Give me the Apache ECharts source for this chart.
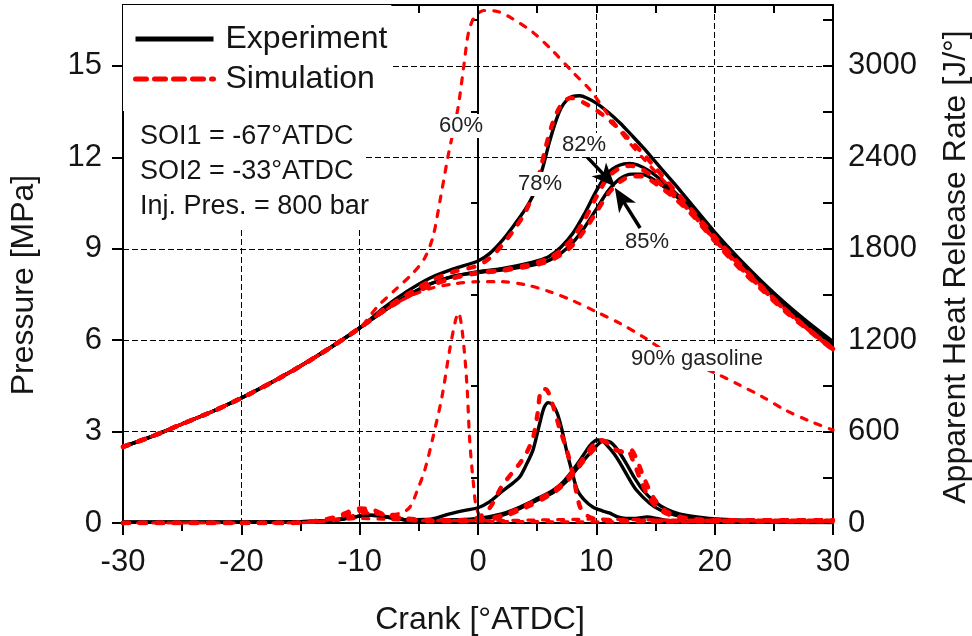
<!DOCTYPE html>
<html><head><meta charset="utf-8">
<script src="https://cdn.jsdelivr.net/npm/echarts@6/dist/echarts.min.js"></script>
<style>html,body{margin:0;padding:0;background:#fff}#c{width:972px;height:636px}</style>
</head><body><div id="c"></div>
<script>
const FONT = "'Liberation Sans', Arial, sans-serif";

// Axis ticks
const crankLabels = [-30, -20, -10, 0, 10, 20, 30];
const pressureLabels = [0, 3, 6, 9, 12, 15];
const pressureMinor = [1.5, 4.5, 7.5, 10.5, 13.5, 16.5];
const hrrLabels = [0, 600, 1200, 1800, 2400, 3000];
const hrrTicks = [0, 300, 600, 900, 1200, 1500, 1800, 2100, 2400, 2700, 3000, 3300];

// Pressure [MPa] vs crank [°ATDC]
const compression = [[-30,2.5],[-27.5,2.85],[-25,3.25],[-22.5,3.65],[-20,4.1],[-17.5,4.6],[-15,5.15],[-12.5,5.75],[-10,6.4]];
const exp78P = [[-8,7.05],[-6,7.6],[-4,8.05],[-2,8.35],[0,8.6],[1,8.85],[2,9.25],[3,9.75],[4,10.3],[4.65,10.75],[5,11.1],[5.5,11.7],[6,12.45],[6.5,13.1],[7,13.6],[7.5,13.88],[8,14.0],[8.6,14.02],[9.2,13.95],[10,13.78],[11,13.48],[12,13.13],[13,12.72],[14,12.3],[15,11.85],[16,11.4],[17,10.95],[18,10.48],[20,9.55],[22,8.7],[24,7.92],[26,7.2],[28,6.55],[30,5.95]];
const exp82P = [[-8,6.95],[-6,7.45],[-4,7.85],[-2,8.1],[0,8.25],[2,8.35],[4,8.5],[5,8.6],[6,8.75],[7,9.05],[8,9.5],[9,10.15],[10,10.9],[11,11.5],[12,11.75],[12.8,11.8],[13.5,11.75],[14.5,11.55],[15.5,11.25],[16.5,10.9],[18,10.35],[20,9.45],[22,8.6],[24,7.85],[26,7.12],[28,6.48],[30,5.9]];
const exp85P = [[-8,6.95],[-6,7.45],[-4,7.85],[-2,8.1],[0,8.22],[2,8.3],[4,8.42],[5,8.5],[6,8.62],[7,8.85],[8,9.2],[9,9.7],[10,10.3],[11,10.9],[12,11.3],[13,11.45],[13.8,11.45],[14.5,11.35],[15.5,11.1],[16.5,10.8],[18,10.3],[20,9.4],[22,8.56],[24,7.8],[26,7.08],[28,6.44],[30,5.86]];
const sim60P = [[-8.5,7.1],[-7,7.65],[-5.5,8.2],[-4.5,8.7],[-3.8,9.4],[-3.2,10.6],[-2.5,12.1],[-1.7,13.6],[-1.2,15.0],[-0.8,16.1],[-0.3,16.6],[0.5,16.82],[1.5,16.8],[2.7,16.6],[4.65,16.1],[6.3,15.5],[8,14.8],[9.5,14.2],[10.9,13.45],[12.6,12.57],[14,11.95],[16,11.1],[18,10.2],[20,9.3],[22,8.5],[24,7.75],[26,7.0],[28,6.3],[30,5.68]];
const sim78P = [[-8,7.0],[-6,7.5],[-4,7.95],[-2,8.25],[0,8.45],[1,8.7],[2,9.1],[3,9.6],[4,10.2],[4.65,10.8],[5.2,11.5],[5.7,12.3],[6.2,13.0],[6.7,13.5],[7.2,13.8],[7.8,13.95],[8.3,13.92],[9,13.78],[10,13.55],[11,13.25],[12,12.9],[13,12.5],[14,12.1],[15,11.65],[16,11.2],[17,10.75],[18,10.3],[20,9.4],[22,8.55],[24,7.75],[26,7.0],[28,6.35],[30,5.72]];
const sim82P = [[-8,6.95],[-6,7.42],[-4,7.8],[-2,8.05],[0,8.22],[2,8.3],[4,8.45],[5,8.55],[6,8.7],[7,8.95],[8,9.35],[9,9.95],[10,10.7],[11,11.35],[12,11.65],[12.9,11.72],[13.6,11.65],[14.5,11.45],[15.5,11.1],[16.5,10.75],[18,10.2],[20,9.3],[22,8.45],[24,7.7],[26,6.98],[28,6.33],[30,5.72]];
const sim85P = [[-8,6.95],[-6,7.42],[-4,7.8],[-2,8.05],[0,8.2],[2,8.28],[4,8.4],[5,8.48],[6,8.6],[7,8.8],[8,9.12],[9,9.6],[10,10.2],[11,10.8],[12,11.2],[13,11.38],[13.9,11.38],[14.6,11.25],[15.5,11.0],[16.5,10.7],[18,10.15],[20,9.25],[22,8.4],[24,7.65],[26,6.93],[28,6.3],[30,5.68]];
const sim90P = [[-8,6.95],[-6,7.4],[-4,7.7],[-2,7.85],[0,7.92],[2,7.92],[4,7.82],[6,7.6],[8,7.3],[10,6.93],[12,6.55],[14,6.1],[16,5.6],[18,5.25],[20,4.93],[22,4.55],[24,4.15],[26,3.7],[28,3.35],[30,3.05]];

// Apparent heat release rate [J/°] vs crank
const exp78H = [[-30,5],[-20,5],[-15,8],[-12,20],[-10,45],[-9,52],[-8,45],[-6,22],[-4,25],[-2.4,60],[-1,85],[0,100],[1,140],[2,205],[3,265],[3.55,305],[4,370],[4.65,480],[5.2,650],[5.6,760],[5.95,790],[6.3,775],[6.7,720],[7.1,610],[7.5,470],[8,320],[8.4,215],[9,150],[9.7,105],[10.5,80],[11.1,66],[11.8,40],[12.5,30],[13.3,30],[14.3,40],[15.2,28],[16,15],[18,8],[20,5],[30,3]];
const exp82H = [[-30,5],[-15,8],[-12,20],[-10,45],[-9,50],[-8,42],[-6,20],[-4,15],[-2,20],[0,30],[2,60],[3.55,105],[5,160],[6.35,215],[7.2,270],[8,345],[8.6,410],[9.2,480],[9.6,520],[10.05,545],[10.5,540],[10.9,510],[11.5,455],[12,395],[12.7,300],[13.4,215],[14.5,130],[15.4,85],[16.5,55],[17.6,39],[20.5,20],[25,8],[30,5]];
const exp85H = [[-30,5],[-15,8],[-12,20],[-10,45],[-9,50],[-8,42],[-6,20],[-4,15],[-2,20],[0,25],[2,50],[3.55,95],[5,150],[6.35,200],[7.5,275],[8.3,350],[9.2,435],[10,505],[10.6,540],[11.2,530],[11.8,480],[12.5,395],[13.2,300],[14,210],[15,135],[16,88],[17,60],[18.5,40],[20.5,25],[25,10],[30,5]];
const sim60H = [[-30,0],[-16,0],[-13,15],[-11,40],[-9.5,65],[-8,55],[-6.5,65],[-5.75,105],[-5.1,220],[-4.5,347],[-3.8,564],[-3.05,826],[-2.4,1134],[-1.9,1330],[-1.65,1380],[-1.4,1300],[-1.1,1080],[-0.9,860],[-0.7,540],[-0.4,270],[-0.1,90],[0.5,20],[2,10],[30,5]];
const sim78H = [[-30,0],[-16,0],[-14,10],[-12,40],[-10,95],[-9,90],[-8,60],[-6,30],[-4,18],[-2,18],[0,35],[1,100],[2,240],[3,340],[3.55,393],[4.1,460],[4.65,560],[5.0,700],[5.4,880],[5.8,875],[6.3,780],[6.9,620],[7.5,480],[8.0,330],[8.6,110],[9.2,50],[10,25],[12,15],[30,15]];
const sim82H = [[-30,0],[-16,0],[-14,10],[-12,35],[-10,80],[-9,75],[-8,55],[-6,25],[-4,12],[-2,12],[0,20],[2,50],[4,115],[6,195],[7,250],[8,335],[9,435],[9.7,510],[10.3,545],[10.9,525],[11.5,485],[12.1,470],[12.6,478],[13.1,410],[13.7,290],[14.5,160],[15.3,90],[16.3,50],[17.5,30],[19,20],[30,18]];
const sim85H = [[-30,0],[-16,0],[-14,10],[-12,35],[-10,80],[-9,75],[-8,55],[-6,25],[-4,12],[-2,12],[0,15],[2,40],[4,100],[6,180],[7,235],[8,315],[9,415],[10,500],[10.6,540],[11.2,510],[11.8,475],[12.4,465],[12.9,480],[13.4,420],[14,300],[14.8,170],[15.6,95],[16.6,52],[17.8,30],[19.5,20],[30,18]];
const sim90H = [[-30,0],[-16,0],[-13,10],[-10,30],[-8,25],[-5,15],[0,15],[5,20],[10,25],[15,20],[20,15],[30,12]];

// Annotation arrows (data coordinates, pressure axis)
const arrow82 = [[9.05,12.08],[10.9,11.32]];
const arrow85 = [[13.7,9.68],[12.1,10.67]];

const expStyle = {color:'#000', width:3.4};
const simStyle = {color:'#ff0000', width:4.4, type:[6,11], cap:'round'};
const thinSim = {color:'#ff0000', width:3.2, type:[6,9], cap:'round'};
const ARROW_HEAD = 'path://M0,0L10,22L0,16L-10,22Z';

function line(name, data, yIdx, style, extra) {
  return Object.assign({
    type:'line', name, data, xAxisIndex:0, yAxisIndex:yIdx, symbol:'none', showSymbol:false,
    smooth:0.3, lineStyle:style, itemStyle:{color:style.color}, silent:true, z:3
  }, extra || {});
}

const arrowLine = {
  silent:true, symbol:['none','none'],
  lineStyle:{color:'#000', width:3.5, type:'solid'}, label:{show:false},
  data:[
    [{coord:arrow82[0], symbol:'none'},{coord:arrow82[1], symbol:ARROW_HEAD, symbolSize:[20,24]}],
    [{coord:arrow85[0], symbol:'none'},{coord:arrow85[1], symbol:ARROW_HEAD, symbolSize:[20,24]}]
  ]
};
const zeroLine = {
  silent:true, symbol:['none','none'], lineStyle:{color:'#000', width:2, type:'solid'},
  label:{show:false}, data:[{xAxis:0}]
};

const series = [
  line('Experiment', exp78H, 1, expStyle),
  line('Experiment', exp82H, 1, expStyle),
  line('Experiment', exp85H, 1, expStyle),
  line('Experiment', compression.concat(exp78P), 0, expStyle, {markLine: arrowLine}),
  line('Experiment', compression.concat(exp82P), 0, expStyle, {markLine: zeroLine}),
  line('Experiment', compression.concat(exp85P), 0, expStyle),
  line('Simulation', compression.concat(sim78P), 0, simStyle),
  line('Simulation', compression.concat(sim82P), 0, simStyle),
  line('Simulation', compression.concat(sim85P), 0, simStyle),
  line('Simulation', compression.concat(sim60P), 0, thinSim),
  line('Simulation', compression.concat(sim90P), 0, thinSim),
  line('Simulation', sim78H, 1, simStyle),
  line('Simulation', sim82H, 1, simStyle),
  line('Simulation', sim85H, 1, simStyle),
  line('Simulation', sim60H, 1, thinSim),
  line('Simulation', sim90H, 1, thinSim)
];

const gridLine = {show:true, lineStyle:{color:'#000', width:1, type:[6,3]}};
const axisLn = {show:true, onZero:false, lineStyle:{color:'#000', width:2}};
const labelStyle = {color:'#151515', fontSize:31, fontFamily:FONT};
const hiddenSymbol = {opacity:0, color:'rgba(0,0,0,0)', borderWidth:0};

const chart = echarts.init(document.getElementById('c'), null, {renderer:'canvas'});
chart.setOption({
  animation:false,
  backgroundColor:'#fff',
  grid:{left:123, right:139, top:5, bottom:113, containLabel:false},
  legend:{
    orient:'vertical', left:123, top:5, itemWidth:78, itemHeight:14, itemGap:8,
    padding:[18,4,16,10], backgroundColor:'#fff', z:10,
    textStyle:{fontSize:32, fontFamily:FONT, color:'#151515', padding:[0,0,0,7]},
    itemStyle:hiddenSymbol,
    data:[
      {name:'Experiment', itemStyle:hiddenSymbol, lineStyle:{width:5, color:'#000'}},
      {name:'Simulation', itemStyle:hiddenSymbol, lineStyle:{width:5, color:'#ff0000', type:[11,8]}}
    ],
    selectedMode:false
  },
  xAxis:[
    {type:'value', position:'bottom', min:-30, max:30, interval:10,
     axisLine:axisLn,
     axisTick:{show:true, inside:false, length:12, lineStyle:{color:'#000', width:2}},
     minorTick:{show:true, splitNumber:2, length:8, lineStyle:{color:'#000', width:2}},
     axisLabel:Object.assign({margin:24, customValues:crankLabels}, labelStyle),
     splitLine:gridLine},
    {type:'value', position:'top', min:-30, max:30, interval:5,
     axisLine:axisLn,
     axisTick:{show:true, inside:true, length:8, lineStyle:{color:'#000', width:2}},
     axisLabel:{show:false}, splitLine:{show:false}}
  ],
  yAxis:[
    {type:'value', position:'left', min:0, max:17, interval:3,
     axisLine:axisLn,
     axisTick:{show:true, inside:false, length:11, customValues:pressureLabels, lineStyle:{color:'#000', width:2}},
     axisLabel:Object.assign({margin:21, customValues:pressureLabels,
       formatter:v => (pressureLabels.indexOf(v) >= 0 ? String(v) : '')}, labelStyle),
     splitLine:gridLine},
    {type:'value', position:'right', min:0, max:3400, interval:600,
     axisLine:axisLn,
     axisTick:{show:true, inside:true, length:10, customValues:hrrTicks, lineStyle:{color:'#000', width:2}},
     axisLabel:Object.assign({margin:15, customValues:hrrLabels,
       formatter:v => (hrrLabels.indexOf(v) >= 0 ? String(v) : '')}, labelStyle),
     splitLine:{show:false}},
    {type:'value', position:'left', min:0, max:17, interval:1.5,
     axisLine:{show:false},
     axisTick:{show:true, inside:false, length:7, customValues:pressureMinor, lineStyle:{color:'#000', width:2}},
     axisLabel:{show:false}, splitLine:{show:false}}
  ],
  graphic:[
    {type:'rect', shape:{x:124, y:104, width:240, height:124}, style:{fill:'#fff'}, z:9, silent:true},
    {type:'text', x:140, y:137, z:10, style:{text:'SOI1 = -67°ATDC', font:'27px '+FONT, fill:'#151515', verticalAlign:'middle'}},
    {type:'text', x:140, y:172, z:10, style:{text:'SOI2 = -33°ATDC', font:'27px '+FONT, fill:'#151515', verticalAlign:'middle'}},
    {type:'text', x:140, y:207, z:10, style:{text:'Inj. Pres. = 800 bar', font:'27px '+FONT, fill:'#151515', verticalAlign:'middle'}},
    {type:'text', x:461, y:126, z:10, style:{text:'60%', font:'22px '+FONT, fill:'#222', align:'center', verticalAlign:'middle', backgroundColor:'#fff', padding:[1,1]}},
    {type:'text', x:540, y:184, z:10, style:{text:'78%', font:'22px '+FONT, fill:'#222', align:'center', verticalAlign:'middle', backgroundColor:'#fff', padding:[1,1]}},
    {type:'text', x:584, y:145, z:10, style:{text:'82%', font:'22px '+FONT, fill:'#222', align:'center', verticalAlign:'middle', backgroundColor:'#fff', padding:[1,1]}},
    {type:'text', x:647, y:242, z:10, style:{text:'85%', font:'22px '+FONT, fill:'#222', align:'center', verticalAlign:'middle', backgroundColor:'#fff', padding:[1,1]}},
    {type:'text', x:697, y:359, z:10, style:{text:'90% gasoline', font:'22px '+FONT, fill:'#222', align:'center', verticalAlign:'middle', backgroundColor:'#fff', padding:[1,1]}},
    {type:'text', x:24, y:285, rotation:Math.PI/2, style:{text:'Pressure [MPa]', font:'32px '+FONT, fill:'#151515', align:'center', verticalAlign:'middle'}},
    {type:'text', x:956, y:267, rotation:Math.PI/2, style:{text:'Apparent Heat Release Rate [J/°]', font:'32px '+FONT, fill:'#151515', align:'center', verticalAlign:'middle'}},
    {type:'text', x:480, y:620, style:{text:'Crank [°ATDC]', font:'32px '+FONT, fill:'#151515', align:'center', verticalAlign:'middle'}}
  ],
  series
});
</script></body></html>
